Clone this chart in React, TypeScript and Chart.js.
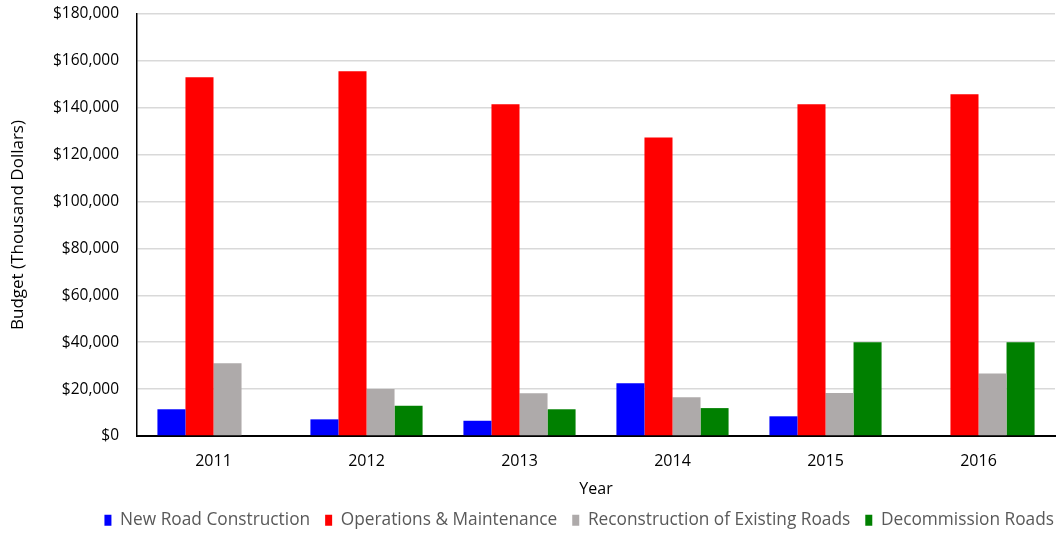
import React, { useEffect, useRef } from "react";
import { Chart, registerables } from "chart.js";

Chart.register(...registerables);

const years = ["2011", "2012", "2013", "2014", "2015", "2016"];
const newRoadConstruction = [11400, 7100, 6500, 22500, 8400, 0];
const operationsMaintenance = [153000, 155600, 141500, 127300, 141500, 145800];
const reconstructionExisting = [31000, 20000, 18200, 16500, 18300, 26700];
const decommissionRoads = [0, 12900, 11400, 11900, 40000, 40000];

const seriesNames = [
  "New Road Construction",
  "Operations & Maintenance",
  "Reconstruction of Existing Roads",
  "Decommission Roads",
];
const seriesColors = ["#0000ff", "#ff0000", "#aeaaaa", "#008000"];

const yMin = 0;
const yMax = 180000;
const yStep = 20000;

const FONT = "'Open Sans', sans-serif";

const legendTweak = {
  id: "legendTweak",
  beforeLayout(chart: any) {
    const lg = chart.legend;
    if (lg && !lg.__patched) {
      const orig = lg.fit.bind(lg);
      lg.fit = () => {
        orig();
        lg.height = 35;
      };
      lg.__patched = true;
    }
  },
  afterLayout(chart: any) {
    const lg = chart.legend;
    if (lg) {
      lg.left += 14;
      lg.right += 14;
      lg.top -= 2.5;
      lg.bottom -= 2.5;
    }
  },
};

export default function App() {
  const ref = useRef<HTMLCanvasElement | null>(null);

  useEffect(() => {
    if (!ref.current) return;
    const seriesData = [
      newRoadConstruction,
      operationsMaintenance,
      reconstructionExisting,
      decommissionRoads,
    ];
    const chart = new Chart(ref.current, {
      type: "bar",
      data: {
        labels: years,
        datasets: seriesNames.map((name, i) => ({
          label: name,
          data: seriesData[i],
          backgroundColor: seriesColors[i],
          borderWidth: 0,
          categoryPercentage: 0.733,
          barPercentage: 1,
        })),
      },
      plugins: [legendTweak],
      options: {
        responsive: false,
        animation: false,
        layout: { padding: { left: 0, right: 6, top: 14, bottom: 0 } },
        plugins: {
          tooltip: { enabled: false },
          legend: {
            position: "bottom",
            align: "end",
            labels: {
              boxWidth: 7,
              boxHeight: 11,
              padding: 15,
              color: "#595959",
              font: { family: FONT, size: 17.3 },
            },
          },
        },
        scales: {
          x: {
            grid: { display: false },
            border: { display: true, color: "#000000", width: 2 },
            ticks: {
              color: "#000000",
              padding: 8,
              font: { family: FONT, size: 16 },
            },
            title: {
              display: true,
              text: "Year",
              color: "#000000",
              font: { family: FONT, size: 16 },
              padding: { top: 0, bottom: 0 },
            },
            afterFit: (scale: any) => {
              scale.height = 63;
            },
          },
          y: {
            min: yMin,
            max: yMax,
            grid: {
              color: "#d9d9d9",
              lineWidth: 1.5,
              drawTicks: true,
              tickLength: 16,
              tickColor: "rgba(0,0,0,0)",
            },
            border: { display: true, color: "#000000", width: 1.5 },
            ticks: {
              stepSize: yStep,
              color: "#000000",
              padding: 2,
              font: { family: FONT, size: 15.5 },
              callback: (v: any) => "$" + Number(v).toLocaleString("en-US"),
            },
            title: {
              display: true,
              text: "Budget (Thousand Dollars)",
              color: "#000000",
              font: { family: FONT, size: 17 },
              padding: { top: 8, bottom: 0 },
            },
            afterFit: (scale: any) => {
              scale.width = 137;
            },
          },
        },
      },
    });
    return () => chart.destroy();
  }, []);

  return (
    <div style={{ position: "absolute", left: 0, top: 0, width: 1061, height: 534, background: "#ffffff" }}>
      <canvas ref={ref} width={1061} height={534} style={{ display: "block" }} />
    </div>
  );
}
